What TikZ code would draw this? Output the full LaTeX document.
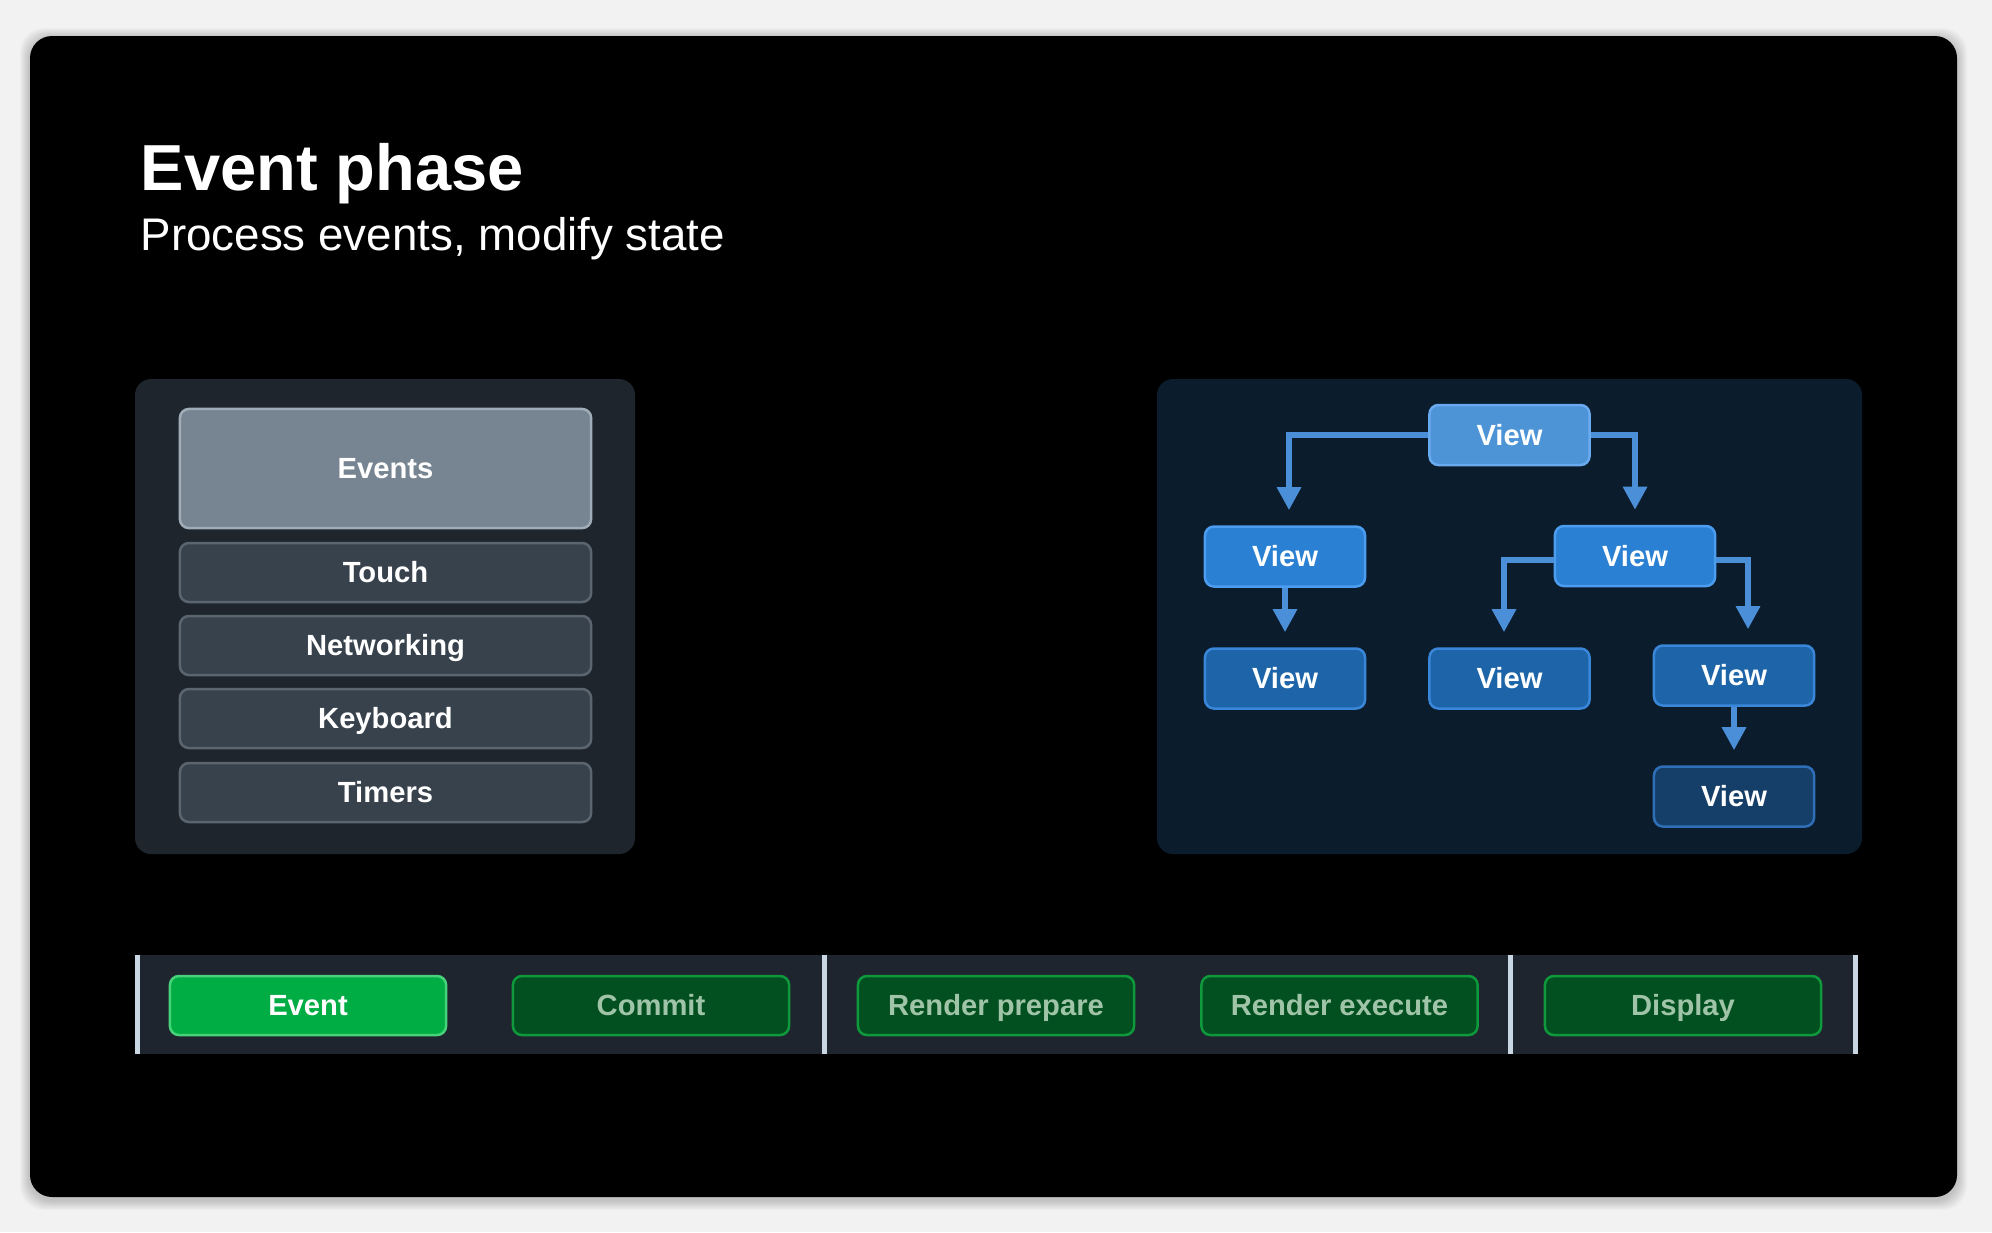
\documentclass[tikz,border=0pt]{standalone}
\usepackage{fontspec}
\setmainfont{Liberation Sans}
\usetikzlibrary{arrows.meta}

\definecolor{pagegray}{RGB}{242,242,242}
\definecolor{panelfill}{RGB}{30,37,45}
\definecolor{evfill}{RGB}{119,133,146}
\definecolor{evline}{RGB}{160,173,184}
\definecolor{rowfill}{RGB}{56,66,77}
\definecolor{rowline}{RGB}{90,101,112}
\definecolor{treefill}{RGB}{11,29,45}
\definecolor{viewA}{RGB}{76,148,214}
\definecolor{viewAline}{RGB}{106,170,240}
\definecolor{viewB}{RGB}{42,128,210}
\definecolor{viewBline}{RGB}{76,156,240}
\definecolor{viewC}{RGB}{29,101,168}
\definecolor{viewCline}{RGB}{58,134,216}
\definecolor{viewD}{RGB}{21,62,104}
\definecolor{viewDline}{RGB}{47,111,184}
\definecolor{treearrow}{RGB}{74,143,216}
\definecolor{stripfill}{RGB}{31,37,47}
\definecolor{stripsep}{RGB}{201,214,227}
\definecolor{greenon}{RGB}{0,173,69}
\definecolor{greenonline}{RGB}{72,210,122}
\definecolor{greenoff}{RGB}{2,79,32}
\definecolor{greenoffline}{RGB}{14,154,60}
\definecolor{greentext}{RGB}{160,196,168}

\tikzset{>={Triangle[width=0.23cm,length=0.23cm]}}
\tikzset{
  lbl/.style={font=\fontsize{8.3}{10}\selectfont\bfseries, text=white,
    inner sep=0pt, text height=0.716em, text depth=0.05cm},
  srcbox/.style={lbl, draw=rowline, fill=rowfill, line width=0.025cm,
    rounded corners=0.09cm, minimum width=4.11cm, minimum height=0.59cm},
  viewbox/.style={lbl, line width=0.025cm, rounded corners=0.09cm,
    minimum width=1.60cm, minimum height=0.60cm},
  phasebox/.style={lbl, text=greentext, draw=greenoffline, fill=greenoff,
    line width=0.025cm, rounded corners=0.09cm,
    minimum width=2.76cm, minimum height=0.59cm},
  treeline/.style={draw=treearrow, line width=0.06cm, ->, shorten >=0.15cm},
  stripsepline/.style={draw=stripsep, line width=0.05cm}
}

\begin{document}
\begin{tikzpicture}[x=0.01cm, y=-0.01cm]
  \useasboundingbox (0,0) rectangle (1992,1232);
  \fill[pagegray] (0,0) rectangle (1992,1232);
  % soft shadow round the slide
  \foreach \i in {1,...,10} {
      \fill[black, opacity=0.018, rounded corners=0.24cm]
      ({30-\i},{38-\i}) rectangle ({1957+\i},{1200+\i});
    }
  \fill[black, rounded corners=0.22cm] (30,36) rectangle (1957,1197);

  % heading
  \node[anchor=base west, inner sep=0pt, text=white,
    font=\fontsize{18.5}{22}\selectfont\bfseries] (title) at (140,190) {Event phase};
  \node[anchor=base west, inner sep=0pt, text=white,
    font=\fontsize{13}{16}\selectfont] (subtitle) at (140,250) {Process events, modify state};

  % event sources
  \fill[panelfill, rounded corners=0.16cm] (135,379) rectangle (635,854);
  \node[srcbox, draw=evline, fill=evfill, minimum height=1.19cm] (events) at (385.5,468.5) {Events};
  \node[srcbox] (touch) at (385.5,572.5) {Touch};
  \node[srcbox] (networking) at (385.5,645.5) {Networking};
  \node[srcbox] (keyboard) at (385.5,718.5) {Keyboard};
  \node[srcbox] (timers) at (385.5,792.5) {Timers};

  % view tree
  \fill[treefill, rounded corners=0.16cm] (1157,379) rectangle (1862,854);
  \node[viewbox, fill=viewA, draw=viewAline] (root) at (1509.5,435) {View};
  \node[viewbox, fill=viewB, draw=viewBline] (vl) at (1285,556.5) {View};
  \node[viewbox, fill=viewB, draw=viewBline] (vr) at (1635,556) {View};
  \node[viewbox, fill=viewC, draw=viewCline] (vll) at (1285,678.5) {View};
  \node[viewbox, fill=viewC, draw=viewCline] (vrl) at (1509.5,678.5) {View};
  \node[viewbox, fill=viewC, draw=viewCline] (vrr) at (1734,675.5) {View};
  \node[viewbox, fill=viewD, draw=viewDline] (vrrr) at (1734,796.5) {View};
  \draw[treeline] (root.west) -| ([xshift=0.04cm]vl.north);
  \draw[treeline] (root.east) -| (vr.north);
  \draw[treeline] (vl) -- (vll);
  \draw[treeline] ([yshift=-0.04cm]vr.west) -| ([xshift=-0.055cm]vrl.north);
  \draw[treeline] ([yshift=-0.04cm]vr.east) -| ([xshift=0.14cm]vrr.north);
  \draw[treeline] (vrr) -- (vrrr);

  % frame timeline
  \fill[stripfill] (135,955) rectangle (1857,1054);
  \foreach \sx in {137,824,1510,1855} {
      \draw[stripsepline] (\sx,955) -- (\sx,1054);
    }
  \node[phasebox, text=white, fill=greenon, draw=greenonline] (ph-event) at (308,1005.5) {Event};
  \node[phasebox] (ph-commit) at (651,1005.5) {Commit};
  \node[phasebox] (ph-prepare) at (996,1005.5) {Render prepare};
  \node[phasebox] (ph-execute) at (1339.5,1005.5) {Render execute};
  \node[phasebox] (ph-display) at (1683,1005.5) {Display};
\end{tikzpicture}
\end{document}
